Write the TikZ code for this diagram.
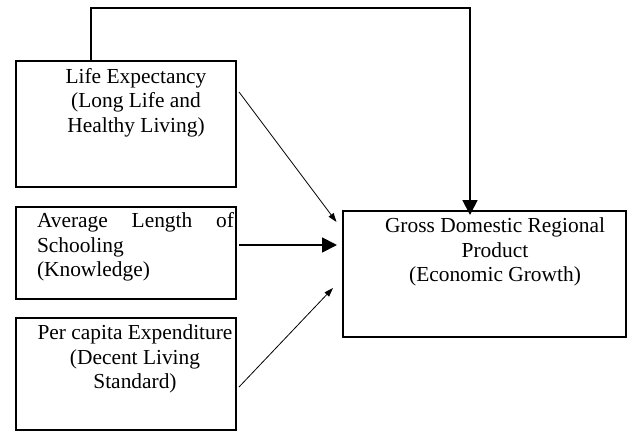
\documentclass[tikz,border=0pt]{standalone}
\usepackage{fontspec}
\setmainfont{Liberation Serif}
\usetikzlibrary{arrows.meta}
\begin{document}
\begin{tikzpicture}[x=1pt, y=-1pt, font=\fontsize{21.4}{24.6}\selectfont, box/.style={draw, line width=2pt, outer sep=0pt, inner sep=0pt}, words/.style={inner sep=0pt, outer sep=0pt, anchor=north, align=center}, thin/.style={line width=0.8pt, -{Triangle[length=9pt, width=6pt]}}, heavy/.style={line width=1.8pt, -{Triangle[length=15pt, width=15pt]}}]
        \useasboundingbox (0,0) rectangle (627,434);
        % boxes
        \node[box, minimum width=220, minimum height=126] (life) at (126,124) {};
        \node[box, minimum width=220, minimum height=92] (school) at (126,253) {};
        \node[box, minimum width=220, minimum height=112] (spend) at (126,374) {};
        \node[box, minimum width=283, minimum height=126] (gdp) at (484.5,274) {};
        % texts
        \node[words] (lifetxt) at (136,68) {Life Expectancy\\(Long Life and\\Healthy Living)};
        \node[words, align=left, text width=197pt, anchor=north west] (schooltxt) at (37,212.7) {Average\hfill Length\hfill of\\Schooling\\(Knowledge)};
        \node[words] (spendtxt) at (135,324.7) {Per capita Expenditure\\(Decent Living\\Standard)};
        \node[words] (gdptxt) at (495,217.7) {Gross Domestic Regional\\Product\\(Economic Growth)};
        % connectors
        \coordinate (topleft) at (91,8);
        \coordinate (topright) at (470,8);
        \draw[heavy, line cap=rect] (life.north -| topleft) -- (topleft) -- (topright) -- ([yshift=-4pt]gdp.north -| topright);
        \draw[thin] ([shift={(3,-32)}]life.east) -- ([shift={(-6.5,-52)}]gdp.west);
        \draw[heavy] ([shift={(3,-8)}]school.east) -- ([shift={(-6,-29)}]gdp.west);
        \draw[thin] ([shift={(3,13)}]spend.east) -- ([shift={(-10,14)}]gdp.west);
\end{tikzpicture}
\end{document}
